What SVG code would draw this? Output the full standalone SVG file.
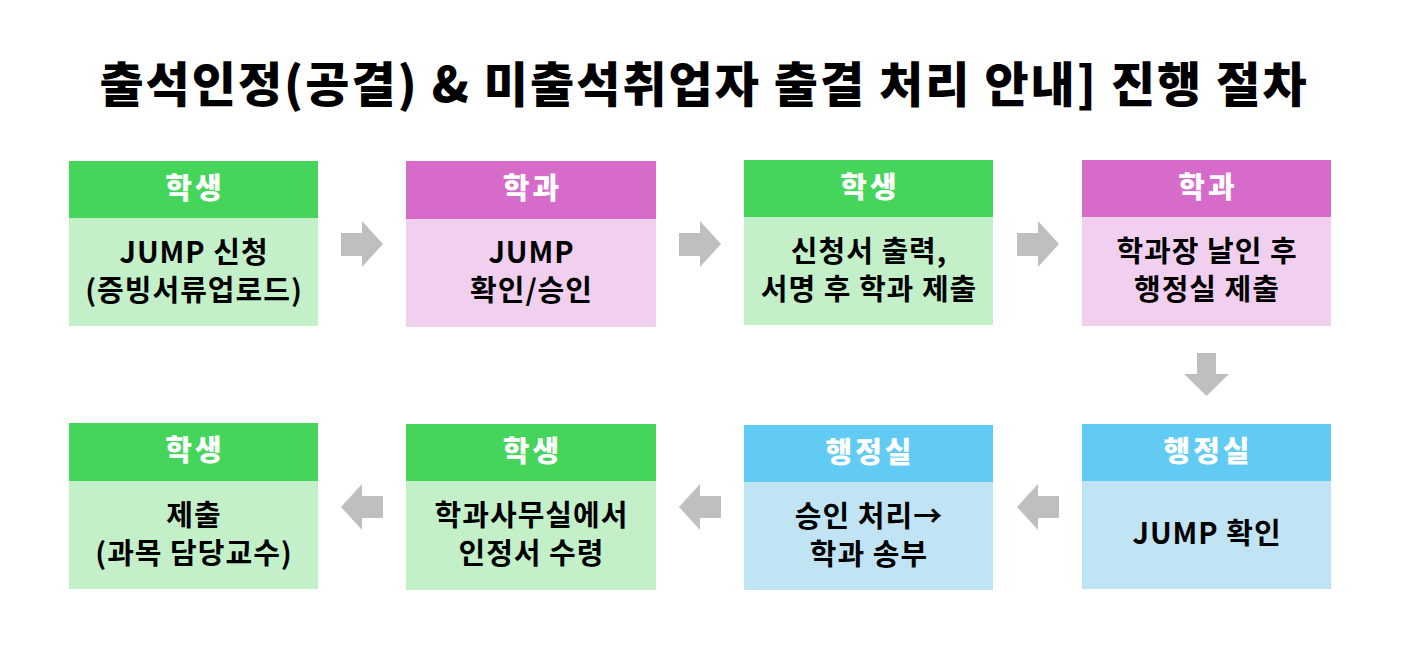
<svg xmlns="http://www.w3.org/2000/svg" width="1407" height="663" viewBox="0 0 1407 663">
<style>
.t{font-family:"Noto Sans CJK KR","Noto Sans",sans-serif;text-anchor:middle}
.title{font-size:48px;font-weight:900;fill:#000;letter-spacing:2px}
.h{font-size:29px;font-weight:800;fill:#fff;letter-spacing:3px}
.b{font-size:29px;font-weight:700;fill:#000;letter-spacing:1px}
.gh{fill:#46D55B}.gb{fill:#C3F0C8}
.ph{fill:#D66BC9}.pb{fill:#F1CFEE}
.bh{fill:#62CBF4}.bb{fill:#C1E4F5}
.arr{fill:#BFBFBF}
</style>
<rect width="1407" height="663" fill="#fff"/>
<text class="t title" x="704" y="102">출석인정(공결) &amp; 미출석취업자 출결 처리 안내] 진행 절차</text>

<g id="n1">
<rect class="gb" x="69" y="161" width="249" height="165"/>
<rect class="gh" x="69" y="161" width="249" height="57"/>
<text class="t h" x="195" y="199">학생</text>
<text class="t b" x="194" y="263">JUMP 신청</text>
<text class="t b" x="194" y="301">(증빙서류업로드)</text>
</g>
<g id="n2">
<rect class="pb" x="406" y="161" width="250" height="166"/>
<rect class="ph" x="406" y="161" width="250" height="58"/>
<text class="t h" x="532.5" y="199">학과</text>
<text class="t b" x="531.5" y="263">JUMP</text>
<text class="t b" x="531.5" y="301">확인/승인</text>
</g>
<g id="n3">
<rect class="gb" x="744" y="160" width="249" height="165"/>
<rect class="gh" x="744" y="160" width="249" height="57"/>
<text class="t h" x="870" y="198">학생</text>
<text class="t b" x="869" y="262">신청서 출력,</text>
<text class="t b" x="869" y="300">서명 후 학과 제출</text>
</g>
<g id="n4">
<rect class="pb" x="1082" y="160" width="249" height="166"/>
<rect class="ph" x="1082" y="160" width="249" height="57"/>
<text class="t h" x="1208" y="198">학과</text>
<text class="t b" x="1207" y="262">학과장 날인 후</text>
<text class="t b" x="1207" y="300">행정실 제출</text>
</g>
<g id="n5">
<rect class="bb" x="1082" y="424" width="249" height="165"/>
<rect class="bh" x="1082" y="424" width="249" height="57"/>
<text class="t h" x="1208" y="462">행정실</text>
<text class="t b" x="1207" y="544">JUMP 확인</text>
</g>
<g id="n6">
<rect class="bb" x="744" y="425" width="249" height="165"/>
<rect class="bh" x="744" y="425" width="249" height="57"/>
<text class="t h" x="870" y="463">행정실</text>
<text class="t b" x="869" y="527">승인 처리→</text>
<text class="t b" x="869" y="565">학과 송부</text>
</g>
<g id="n7">
<rect class="gb" x="406" y="424" width="250" height="166"/>
<rect class="gh" x="406" y="424" width="250" height="57"/>
<text class="t h" x="532.5" y="462">학생</text>
<text class="t b" x="531.5" y="526">학과사무실에서</text>
<text class="t b" x="531.5" y="564">인정서 수령</text>
</g>
<g id="n8">
<rect class="gb" x="69" y="423" width="249" height="166"/>
<rect class="gh" x="69" y="423" width="249" height="58"/>
<text class="t h" x="195" y="461">학생</text>
<text class="t b" x="194" y="526">제출</text>
<text class="t b" x="194" y="564">(과목 담당교수)</text>
</g>

<g id="connectors">
<polygon class="arr" points="341,233 362,233 362,221 383,244 362,267 362,256 341,256"/>
<polygon class="arr" points="679,233 700,233 700,221 721,244 700,267 700,256 679,256"/>
<polygon class="arr" points="1017,233 1038,233 1038,221 1059,244 1038,267 1038,256 1017,256"/>
<polygon class="arr" points="1197,353 1216,353 1216,374 1229,374 1206.5,396 1184,374 1197,374"/>
<polygon class="arr" points="1059,496 1038,496 1038,484 1017,507 1038,530 1038,518 1059,518"/>
<polygon class="arr" points="721,496 700,496 700,484 679,507 700,530 700,518 721,518"/>
<polygon class="arr" points="383,496 362,496 362,484 341,507 362,530 362,518 383,518"/>
</g>
</svg>
